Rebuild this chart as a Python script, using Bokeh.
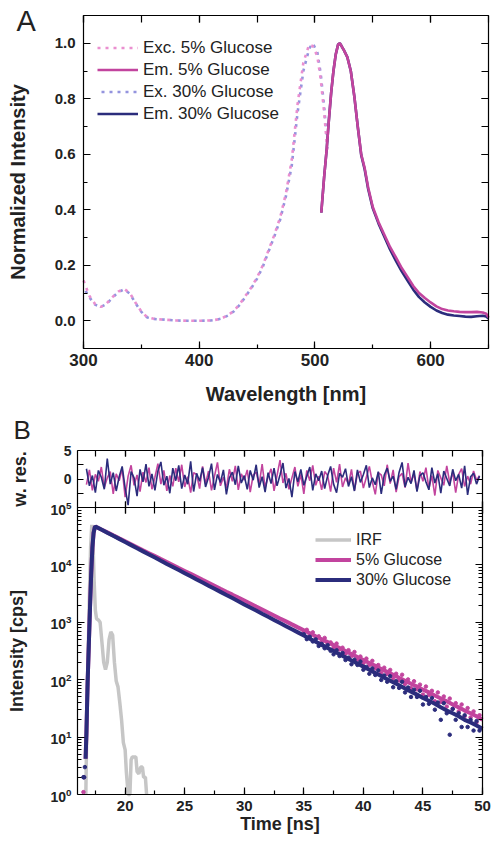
from bokeh.plotting import figure
from bokeh.models import (LinearAxis, LogAxis, Range1d, LinearScale, SingleIntervalTicker, FixedTicker,
                          PrintfTickFormatter, CustomJSTickFormatter, Legend, LegendItem, Label,
                          LogTickFormatter, Grid)
from bokeh.layouts import column
from bokeh.embed import file_html
from bokeh.resources import INLINE

FONT = "Liberation Sans"

# ---------------- Panel A data ----------------
exc_wl = [300, 305, 310, 315, 320, 325, 330, 335, 340, 345, 350, 355, 360, 365, 370, 380, 390, 400,
          410, 415, 420, 425, 430, 435, 440, 445, 450, 455, 460, 465, 470, 475, 480, 485, 490, 495,
          498, 502, 505, 508, 511]
exc_5 = [0.145, 0.09, 0.06, 0.05, 0.062, 0.085, 0.105, 0.115, 0.1, 0.065, 0.033, 0.013, 0.008, 0.005,
         0.004, 0.001, 0.0, 0.0, 0.001, 0.004, 0.01, 0.02, 0.036, 0.06, 0.09, 0.12, 0.156, 0.2, 0.255,
         0.31, 0.373, 0.46, 0.58, 0.78, 0.93, 0.995, 0.99, 0.955, 0.87, 0.75, 0.60]
exc_30 = [0.12, 0.085, 0.058, 0.05, 0.06, 0.083, 0.103, 0.113, 0.098, 0.063, 0.032, 0.012, 0.007, 0.005,
          0.004, 0.001, 0.0, 0.0, 0.001, 0.004, 0.009, 0.019, 0.034, 0.057, 0.087, 0.117, 0.152, 0.195,
          0.25, 0.305, 0.365, 0.45, 0.56, 0.75, 0.9, 0.98, 1.0, 0.97, 0.89, 0.77, 0.62]
em_wl = [505.5, 508, 510, 512, 514, 516, 518, 520, 521.5, 523, 525, 528, 531, 534, 537, 540, 543, 546,
         550, 555, 560, 565, 570, 575, 580, 585, 590, 595, 600, 605, 610, 615, 620, 625, 630, 635, 640,
         645, 648, 650]
em_5 = [0.39, 0.52, 0.61, 0.72, 0.82, 0.9, 0.96, 0.995, 1.0, 0.99, 0.975, 0.95, 0.9, 0.81, 0.7, 0.6,
        0.55, 0.48, 0.41, 0.355, 0.31, 0.265, 0.228, 0.19, 0.158, 0.125, 0.1, 0.082, 0.066, 0.052, 0.042,
        0.037, 0.034, 0.032, 0.031, 0.031, 0.032, 0.03, 0.025, 0.012]
em_30 = [0.39, 0.52, 0.61, 0.72, 0.82, 0.9, 0.96, 0.995, 1.0, 0.99, 0.975, 0.95, 0.9, 0.81, 0.7, 0.597,
         0.545, 0.475, 0.405, 0.35, 0.303, 0.256, 0.216, 0.178, 0.145, 0.112, 0.085, 0.066, 0.05, 0.037,
         0.028, 0.022, 0.019, 0.017, 0.015, 0.014, 0.016, 0.018, 0.015, 0.008]

# ---------------- Panel B data ----------------
t_res = [16.75, 17.0, 17.25, 17.5, 17.75, 18.0, 18.25, 18.5, 18.75, 19.0,
         19.25, 19.5, 19.75, 20.0, 20.25, 20.5, 20.75, 21.0, 21.25, 21.5,
         21.75, 22.0, 22.25, 22.5, 22.75, 23.0, 23.25, 23.5, 23.75, 24.0,
         24.25, 24.5, 24.75, 25.0, 25.25, 25.5, 25.75, 26.0, 26.25, 26.5,
         26.75, 27.0, 27.25, 27.5, 27.75, 28.0, 28.25, 28.5, 28.75, 29.0,
         29.25, 29.5, 29.75, 30.0, 30.25, 30.5, 30.75, 31.0, 31.25, 31.5,
         31.75, 32.0, 32.25, 32.5, 32.75, 33.0, 33.25, 33.5, 33.75, 34.0,
         34.25, 34.5, 34.75, 35.0, 35.25, 35.5, 35.75, 36.0, 36.25, 36.5,
         36.75, 37.0, 37.25, 37.5, 37.75, 38.0, 38.25, 38.5, 38.75, 39.0,
         39.25, 39.5, 39.75, 40.0, 40.25, 40.5, 40.75, 41.0, 41.25, 41.5,
         41.75, 42.0, 42.25, 42.5, 42.75, 43.0, 43.25, 43.5, 43.75, 44.0,
         44.25, 44.5, 44.75, 45.0, 45.25, 45.5, 45.75, 46.0, 46.25, 46.5,
         46.75, 47.0, 47.25, 47.5, 47.75, 48.0, 48.25, 48.5, 48.75, 49.0,
         49.25, 49.5, 49.75]
res_30 = [1.8, -1.2, 0.6, -2.4, 1.5, 0.3, -1.8, 3.6, -0.9, 1.1,
          -2.1, 0.4, 2.2, -1.6, -4.6, 1.3, 0.2, -3.0, 1.7, -0.5,
          2.6, -1.3, 0.9, -2.0, 1.4, 3.0, -1.1, 0.5, -2.5, 1.9,
          -0.3, 2.4, -1.7, 0.7, -0.9, 3.1, -2.2, 1.0, -0.4, 2.0,
          -1.4, 0.3, 2.7, -1.9, 0.8, -0.6, 1.6, -2.7, 0.2, 1.2,
          -1.0, 2.3, -0.7, 0.6, -1.8, 1.5, -0.2, 2.5, -1.5, 0.4,
          -2.3, 1.1, -0.8, 1.9, -1.2, 0.7, 2.8, -1.6, 0.1, -3.2,
          1.3, -0.5, 1.7, -1.1, 0.5, 2.1, -2.0, 0.9, -0.3, 1.4,
          -1.7, 0.6, 2.2, -0.9, -2.4, 1.0, 0.3, 1.8, -1.3, 0.4,
          -2.1, 1.6, -0.6, 0.8, 2.4, -1.5, 0.2, -1.0, 1.3, -2.6,
          0.7, 1.9, -0.4, 0.5, -1.8, 1.2, 2.9, -1.4, 0.3, -0.8,
          1.5, -2.2, 0.6, 1.1, -0.5, -1.9, 2.0, -0.7, 0.9, -2.5,
          1.4, 0.1, -1.2, 1.7, -0.3, 0.8, -1.6, 2.3, -2.8, 0.4,
          1.0, -0.9, 0.5]
res_5 = [-1.0, 1.6, -2.0, 0.8, -0.4, 2.1, -1.5, 0.2, 1.3, -2.6,
         0.9, -0.3, 1.8, -3.2, 0.5, 2.4, -1.1, 0.7, -2.2, 1.2,
         -0.6, 2.0, -1.8, 0.3, 2.7, -0.9, 1.5, -2.1, 0.6, -1.3,
         1.9, -0.5, 2.5, -1.4, 0.4, -2.4, 1.1, 0.8, -1.7, 2.2,
         -0.8, 1.4, -2.0, 0.5, 2.9, -1.2, 0.3, -1.6, 1.7, -0.4,
         2.3, -1.9, 0.9, -0.2, 1.6, -2.3, 0.7, 1.2, -1.0, 2.6,
         -1.5, 0.4, 1.8, -2.1, 0.6, 3.3, -0.7, 1.0, -1.8, 0.2,
         2.1, -1.3, 0.8, -2.6, 1.5, -0.3, 2.4, -1.1, 0.5, -1.9,
         1.3, 0.6, -2.2, 1.9, -0.6, 2.6, -1.4, 0.2, -0.9, 1.7,
         -2.0, 0.9, 1.4, -1.6, 0.3, 2.2, -0.5, -2.7, 1.1, 0.7,
         -1.2, 2.5, -0.8, 1.6, -2.3, 0.4, 1.0, -1.5, 2.8, -0.6,
         0.9, -2.0, 1.3, -0.4, 2.0, -1.7, 0.6, -2.9, 1.5, 0.2,
         -1.1, 2.3, -0.7, 1.2, -2.4, 0.8, 1.8, -1.3, 0.5, -0.9,
         1.4, -0.2, 0.6]

t_dec = [16.68, 16.75, 16.85, 16.95, 17.05, 17.15, 17.25, 17.35, 17.45,
         17.5, 18.0, 18.5, 19.0, 19.5, 20.0, 20.5, 21.0, 21.5, 22.0,
         22.5, 23.0, 23.5, 24.0, 24.5, 25.0, 25.5, 26.0, 26.5, 27.0,
         27.5, 28.0, 28.5, 29.0, 29.5, 30.0, 30.5, 31.0, 31.5, 32.0,
         32.5, 33.0, 33.5, 34.0, 34.5, 35.0, 35.5, 36.0, 36.5, 37.0,
         37.5, 38.0, 38.5, 39.0, 39.5, 40.0, 40.5, 41.0, 41.5, 42.0,
         42.5, 43.0, 43.5, 44.0, 44.5, 45.0, 45.5, 46.0, 46.5, 47.0,
         47.5, 48.0, 48.5, 49.0, 49.5, 50.0]
dec_30 = [4.2, 12, 90, 400, 1800, 7000, 20000, 36000, 45000,
          46800, 41300, 36400, 32100, 28400, 25000, 22100, 19500, 17200, 15200,
          13400, 11800, 10400, 9200, 8130, 7180, 6330, 5580, 4930, 4350,
          3840, 3390, 2990, 2640, 2330, 2050, 1810, 1600, 1410, 1245,
          1100, 970, 856, 755, 667, 589, 519, 458, 404, 357,
          315, 278, 245, 216, 191, 169, 149, 131, 116, 102,
          90, 80, 70, 62, 55, 48, 43, 38, 33, 29,
          26, 23, 20, 18, 16, 14]
dec_5 = [4.2, 12, 90, 400, 1800, 7000, 20000, 36000, 45000,
         46800, 41500, 36900, 32700, 29000, 25800, 22900, 20300, 18000, 16000,
         14200, 12600, 11200, 9960, 8830, 7850, 6970, 6180, 5480, 4880,
         4330, 3840, 3410, 3030, 2690, 2390, 2120, 1880, 1670, 1480,
         1315, 1167, 1037, 920, 817, 726, 644, 571, 507, 451,
         400, 355, 315, 280, 248, 221, 196, 174, 154, 137,
         122, 108, 96, 85, 76, 67, 60, 53, 47, 42,
         37, 33, 29, 26, 23, 20]

t_tail = [35.0, 35.25, 35.5, 35.75, 36.0, 36.25, 36.5, 36.75, 37.0, 37.25,
          37.5, 37.75, 38.0, 38.25, 38.5, 38.75, 39.0, 39.25, 39.5, 39.75,
          40.0, 40.25, 40.5, 40.75, 41.0, 41.25, 41.5, 41.75, 42.0, 42.25,
          42.5, 42.75, 43.0, 43.25, 43.5, 43.75, 44.0, 44.25, 44.5, 44.75,
          45.0, 45.25, 45.5, 45.75, 46.0, 46.25, 46.5, 46.75, 47.0, 47.25,
          47.5, 47.75, 48.0, 48.25, 48.5, 48.75, 49.0, 49.25, 49.5, 49.75]
tail_30 = [618, 509, 560, 464, 504, 387, 420, 353, 400, 318,
           277, 326, 259, 292, 220, 242, 186, 223, 181, 207,
           149, 167, 127, 157, 121, 145, 99, 118, 92, 115,
           74, 94, 72, 92, 60, 73, 50, 67, 50, 64,
           37, 50, 38, 48, 30, 40, 20, 39, 26, 11,
           31, 20, 26, 15, 24, 15, 20, 13, 19, 13]
tail_5 = [690, 740, 599, 668, 554, 570, 456, 535, 424, 446,
          360, 426, 337, 361, 284, 327, 258, 304, 223, 253,
          194, 233, 180, 213, 157, 180, 131, 162, 126, 148,
          105, 127, 97, 122, 84, 101, 72, 94, 68, 82,
          55, 76, 54, 64, 42, 60, 41, 51, 34, 47,
          31, 39, 28, 37, 23, 32, 22, 28, 18, 24]

t_early_30 = [16.5, 16.56, 16.62]
early_30 = [2, 2, 3]
t_early_5 = [16.5, 16.54]
early_5 = [1.1, 2]

t_irf = [16.7, 16.8, 16.9, 17.0, 17.1, 17.2, 17.3, 17.4, 17.5, 17.6,
         17.75, 17.9, 18.05, 18.2, 18.35, 18.5, 18.65, 18.8, 18.95, 19.1,
         19.25, 19.4, 19.55, 19.7, 19.85, 20.0, 20.1, 20.25, 20.4, 20.5,
         20.6, 20.75, 20.9, 21.0, 21.15, 21.3, 21.45, 21.55, 21.7, 21.8]
irf = [1, 30, 300, 3000, 20000, 50000, 25000, 5000, 1600, 1150,
       1100, 1000, 450, 200, 150, 200, 500, 680, 600, 200,
       95, 75, 40, 20, 8, 6, 2.5, 1, 1, 4,
       4.5, 4.5, 4.5, 2.5, 2.3, 3, 3, 2, 2, 1]

dec_ticks = [1, 10, 100, 1000, 10000, 100000]
dec_minor = [m * d for d in [1, 10, 100, 1000, 10000] for m in range(2, 10)]
res_ticks = [0, 5]
res_minor = [-2.5, 2.5]

# colours
C_EXC5 = "#ea8fd0"
C_EXC30 = "#9494de"
C_EM5 = "#c2449e"
C_EM30 = "#2b2c7c"
C_IRF = "#c6c6c6"
TXT = "#222222"

# ---------------- geometry (canvas pixels of each panel) ----------------
A_W, A_H = 492, 412
A_L, A_R, A_T, A_B = 83, 488, 15, 348
B_W, B_H = 492, 432
B_L, B_R = 77, 482
B_T, B_S, B_B = 38, 95, 382   # residual top, separator, decay bottom

EMPTY = CustomJSTickFormatter(code="return ''")


def style(ax, tick_size="1px", major_in=7, minor_in=4, label_size="18px", standoff=0,
          label_standoff=0):
    ax.major_tick_in = major_in
    ax.major_tick_out = 0
    ax.minor_tick_in = minor_in
    ax.minor_tick_out = 0
    ax.axis_line_color = "black"
    ax.axis_line_width = 1.2
    ax.major_tick_line_color = "black"
    ax.major_tick_line_width = 1.2
    ax.minor_tick_line_color = "black"
    ax.minor_tick_line_width = 1.2
    ax.major_label_text_font = FONT
    ax.major_label_text_font_style = "bold"
    ax.major_label_text_font_size = tick_size
    ax.major_label_text_color = TXT
    ax.major_label_standoff = standoff
    ax.axis_label_text_font = FONT
    ax.axis_label_text_font_style = "bold"
    ax.axis_label_text_font_size = label_size
    ax.axis_label_text_color = TXT
    ax.axis_label_standoff = label_standoff
    return ax


def base_fig(w, h, xr, yr, log=False):
    p = figure(width=w, height=h, x_range=xr, y_range=yr, y_axis_type="log" if log else "linear",
               x_axis_location=None, y_axis_location=None, output_backend="svg",
               toolbar_location=None, min_border=0)
    p.min_border_left = p.min_border_right = p.min_border_top = p.min_border_bottom = 0
    p.outline_line_color = None
    p.background_fill_color = "white"
    p.border_fill_color = "white"
    for g in p.select(type=Grid):
        g.visible = False
    return p


# ================= Panel A =================
xA0, xA1, yA0, yA1 = 300, 650, -0.1, 1.1
kx = (A_R - A_L) / (xA1 - xA0)
ky = (A_B - A_T) / (yA1 - yA0)
pA = base_fig(A_W, A_H,
              Range1d(xA0 - A_L / kx, xA1 + (A_W - A_R) / kx),
              Range1d(yA0 - (A_H - A_B) / ky, yA1 + A_T / ky))

r_exc30 = pA.line(exc_wl, exc_30, line_color=C_EXC30, line_width=2.6, line_dash="3 5",
                  line_dash_offset=4)
r_em30 = pA.line(em_wl, em_30, line_color=C_EM30, line_width=2.6)
r_exc5 = pA.line(exc_wl, exc_5, line_color=C_EXC5, line_width=2.6, line_dash="3 5")
r_em5 = pA.line(em_wl, em_5, line_color=C_EM5, line_width=2.6)

tick_x100 = SingleIntervalTicker(interval=100, num_minor_ticks=2)
tick_y02 = SingleIntervalTicker(interval=0.2, num_minor_ticks=2)

pA.add_layout(style(LinearAxis(fixed_location=yA0, bounds=(xA0, xA1), ticker=tick_x100,
                               axis_label="Wavelength [nm]"),
                    tick_size="17px", label_size="20px", standoff=5, label_standoff=14), "below")
pA.add_layout(style(LinearAxis(fixed_location=xA0, bounds=(yA0, yA1), ticker=tick_y02,
                               formatter=PrintfTickFormatter(format="%.1f"),
                               axis_label="Normalized Intensity"),
                    tick_size="15px", label_size="20px", standoff=8, label_standoff=23), "left")
pA.add_layout(style(LinearAxis(fixed_location=yA1, bounds=(xA0, xA1), ticker=tick_x100,
                               formatter=EMPTY), major_in=7, minor_in=7), "above")
pA.add_layout(style(LinearAxis(fixed_location=xA1, bounds=(yA0, yA1), ticker=tick_y02,
                               formatter=EMPTY), major_in=7, minor_in=7), "right")

legA = Legend(items=[LegendItem(label="Exc. 5% Glucose", renderers=[r_exc5]),
                     LegendItem(label="Em. 5% Glucose", renderers=[r_em5]),
                     LegendItem(label="Ex. 30% Glucose", renderers=[r_exc30]),
                     LegendItem(label="Em. 30% Glucose", renderers=[r_em30])],
              location=(97, 288), padding=0, margin=0, spacing=1,
              label_height=21, glyph_height=21, glyph_width=41, label_standoff=5,
              border_line_color=None, background_fill_alpha=0,
              label_text_font=FONT, label_text_font_size="17px", label_text_color=TXT)
pA.add_layout(legA)

pA.add_layout(Label(x=16, y=A_H - 20, x_units="screen", y_units="screen", text="A",
                    text_font=FONT, text_font_size="29px", text_color=TXT,
                    text_baseline="alphabetic"))

# ================= Panel B =================
xB0, xB1 = 16, 50
kxB = (B_R - B_L) / (xB1 - xB0)
k_dec = (B_B - B_S) / 5.0          # pixels per decade
k_res = (B_S - B_T) / 10.0         # pixels per residual unit
pB = base_fig(B_W, B_H,
              Range1d(xB0 - B_L / kxB, xB1 + (B_W - B_R) / kxB),
              Range1d(10 ** (-(B_H - B_B) / k_dec), 10 ** (5 + B_S / k_dec)), log=True)
pB.extra_y_ranges = {"res": Range1d(-5 - (B_H - B_S) / k_res, 5 + B_T / k_res)}
pB.extra_y_scales = {"res": LinearScale()}

pB.line(t_res, res_5, y_range_name="res", line_color=C_EM5, line_width=1.6)
pB.line(t_res, res_30, y_range_name="res", line_color=C_EM30, line_width=1.6)

r_irf = pB.line(t_irf, irf, line_color=C_IRF, line_width=3.5)
r_d5 = pB.line(t_dec, dec_5, line_color=C_EM5, line_width=4)
pB.scatter(t_tail, tail_5, size=3.5, color=C_EM5)
pB.scatter(t_early_5, early_5, size=3.5, color=C_EM5)
r_d30 = pB.line(t_dec, dec_30, line_color=C_EM30, line_width=4)
pB.scatter(t_tail, tail_30, size=3.5, color=C_EM30)
pB.scatter(t_early_30, early_30, size=3.5, color=C_EM30)

tick_t = SingleIntervalTicker(interval=5, num_minor_ticks=2)
tick_dec = FixedTicker(ticks=dec_ticks, minor_ticks=dec_minor)
tick_res = FixedTicker(ticks=res_ticks, minor_ticks=res_minor)

# bottom time axis
pB.add_layout(style(LinearAxis(fixed_location=1, bounds=(xB0, xB1), ticker=tick_t,
                               axis_label="Time [ns]"),
                    tick_size="15px", label_size="18px", standoff=6, label_standoff=0), "below")
# left log intensity axis
pB.add_layout(style(LogAxis(fixed_location=xB0, bounds=(1, 100000), ticker=tick_dec,
                            formatter=LogTickFormatter(), axis_label="Intensity [cps]"),
                    tick_size="14px", label_size="18px", standoff=6, label_standoff=20), "left")
# left residual axis
pB.add_layout(style(LinearAxis(y_range_name="res", fixed_location=xB0, bounds=(-5, 5),
                               ticker=tick_res, axis_label="w. res."),
                    tick_size="14px", label_size="18px", major_in=6, minor_in=6,
                    standoff=6, label_standoff=31), "left")
# residual top, separator ticks (both directions)
pB.add_layout(style(LinearAxis(y_range_name="res", fixed_location=5, bounds=(xB0, xB1),
                               ticker=tick_t, formatter=EMPTY), major_in=6, minor_in=6), "above")
pB.add_layout(style(LinearAxis(fixed_location=100000, bounds=(xB0, xB1), ticker=tick_t,
                               formatter=EMPTY), major_in=6, minor_in=6), "above")
pB.add_layout(style(LinearAxis(fixed_location=100000, bounds=(xB0, xB1), ticker=tick_t,
                               formatter=EMPTY), major_in=6, minor_in=6), "below")
# right mirrors
pB.add_layout(style(LogAxis(fixed_location=xB1, bounds=(1, 100000), ticker=tick_dec,
                            formatter=EMPTY), major_in=7, minor_in=4), "right")
pB.add_layout(style(LinearAxis(y_range_name="res", fixed_location=xB1, bounds=(-5, 5),
                               ticker=tick_res, formatter=EMPTY), major_in=6, minor_in=6), "right")

legB = Legend(items=[LegendItem(label="IRF", renderers=[r_irf]),
                     LegendItem(label="5% Glucose", renderers=[r_d5]),
                     LegendItem(label="30% Glucose", renderers=[r_d30])],
              location=(315, 255), padding=0, margin=0, spacing=1,
              label_height=19, glyph_height=19, glyph_width=36, label_standoff=5,
              border_line_color=None, background_fill_alpha=0,
              label_text_font=FONT, label_text_font_size="16px", label_text_color=TXT)
pB.add_layout(legB)

pB.add_layout(Label(x=13, y=B_H - 17, x_units="screen", y_units="screen", text="B",
                    text_font=FONT, text_font_size="26px", text_color=TXT,
                    text_baseline="alphabetic"))

layout = column(pA, pB, spacing=0)
open("out.html", "w").write(file_html(layout, INLINE))
